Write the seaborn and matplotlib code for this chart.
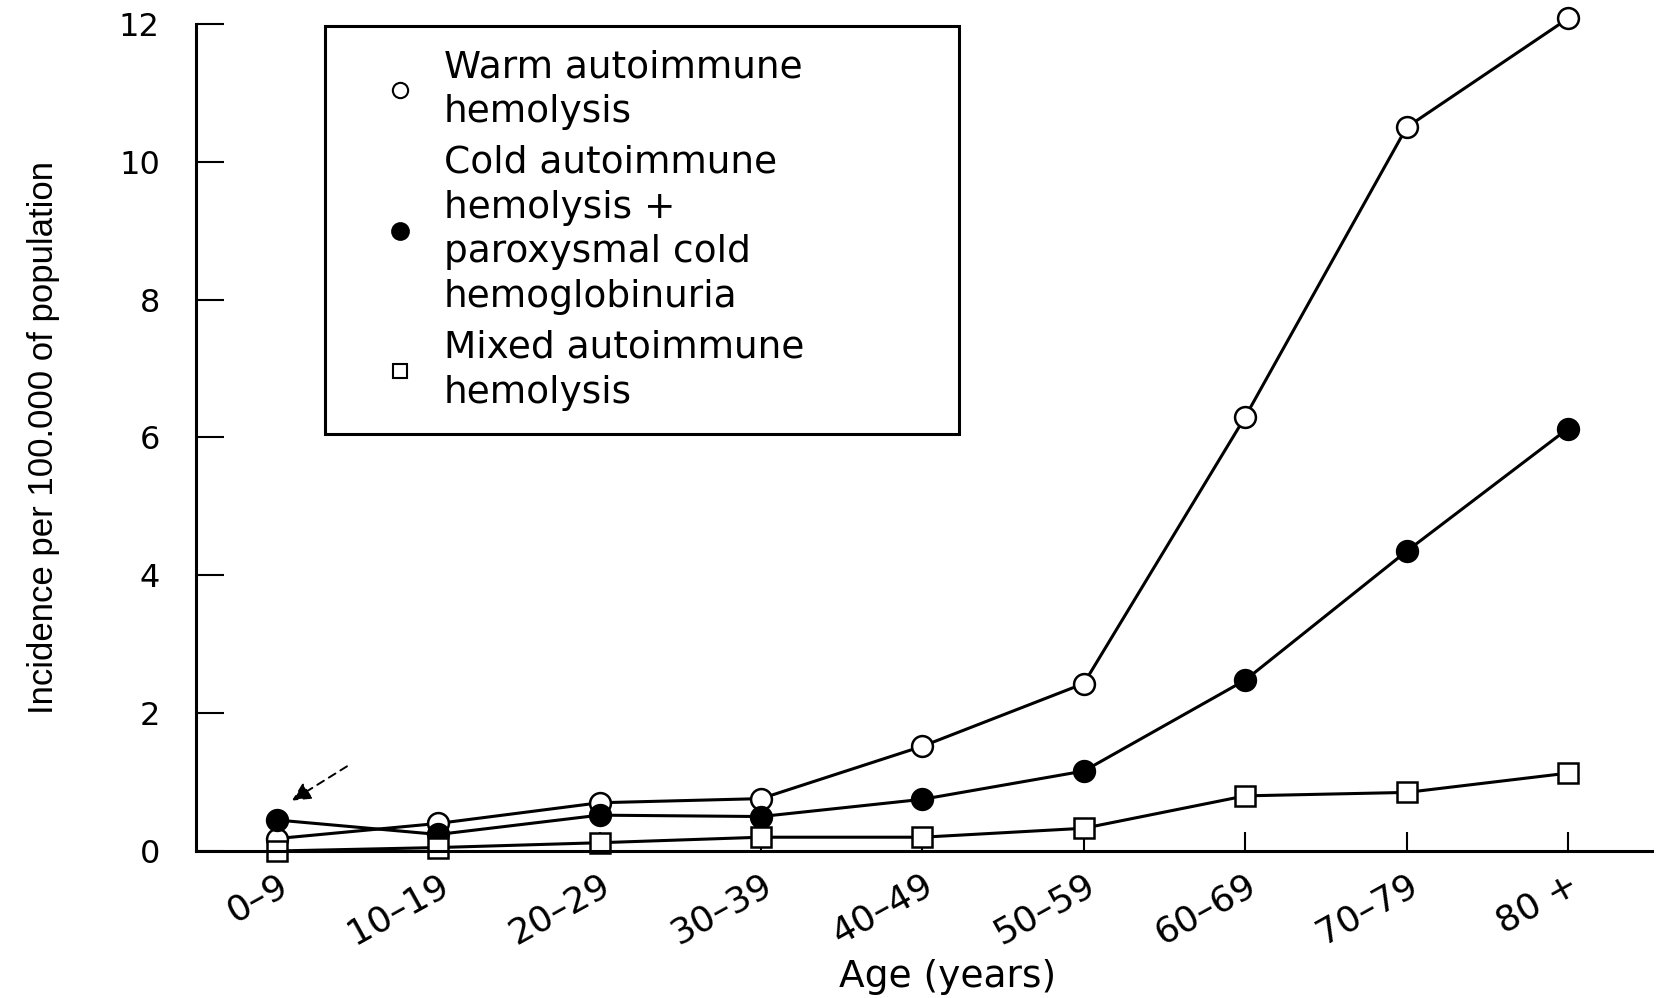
import matplotlib
matplotlib.use("Agg")
import matplotlib.pyplot as plt
import seaborn as sns
from matplotlib.lines import Line2D

# ---- data ----
age_groups = ["0–9", "10–19", "20–29", "30–39", "40–49", "50–59", "60–69", "70–79", "80 +"]
warm = [0.18, 0.40, 0.70, 0.76, 1.52, 2.43, 6.30, 10.50, 12.08]
cold = [0.45, 0.24, 0.52, 0.50, 0.75, 1.16, 2.48, 4.35, 6.13]
mixed = [0.00, 0.05, 0.12, 0.20, 0.20, 0.33, 0.80, 0.85, 1.13]
series_labels = [
    "Warm autoimmune\nhemolysis",
    "Cold autoimmune\nhemolysis +\nparoxysmal cold\nhemoglobinuria",
    "Mixed autoimmune\nhemolysis",
]
y_ticks = [0, 2, 4, 6, 8, 10, 12]
x_title = "Age (years)"
y_title = "Incidence per 100.000 of population"

sns.set_theme(style="ticks", rc={
    "axes.edgecolor": "black", "text.color": "black", "axes.labelcolor": "black",
    "xtick.color": "black", "ytick.color": "black",
})
plt.rcParams["font.family"] = ["DejaVu Sans"]

fig = plt.figure(figsize=(16.61, 9.98), dpi=100)
ax = fig.add_axes([0.118, 0.1473, 0.8766, 0.8287])

styles = [("o", "white"), ("o", "black"), ("s", "white")]
for vals, (mk, fc) in zip([warm, cold, mixed], styles):
    sns.lineplot(x=age_groups, y=vals, ax=ax, color="black", lw=2.2, sort=False,
                 marker=mk, markerfacecolor=fc, markeredgecolor="black",
                 markeredgewidth=1.8, markersize=15, clip_on=False, legend=False)

ax.set_ylim(0, 12)
ax.set_xlim(-0.5, 8.52)
ax.set_yticks(y_ticks)
sns.despine(ax=ax)
for s in ("left", "bottom"):
    ax.spines[s].set_linewidth(2.2)
    ax.spines[s].set_color("black")

ax.tick_params(axis="y", direction="in", length=20, width=1.5, pad=26, labelsize=23)
ax.tick_params(axis="x", direction="in", length=14, width=1.5, pad=12, labelsize=26)
for lbl in ax.get_xticklabels():
    lbl.set_rotation(29)
    lbl.set_ha("right")
    lbl.set_va("top")
    lbl.set_rotation_mode("anchor")

ax.set_xlabel(x_title, fontsize=27, va="top")
ax.xaxis.set_label_coords(0.516, -0.131)
ax.set_ylabel(y_title, fontsize=25, family=["Liberation Sans"])
ax.yaxis.label.set_va("center")
ax.yaxis.set_label_coords(-0.1045, 0.5)

handles = [
    Line2D([], [], ls="none", marker="o", mfc="white", mec="black", mew=1.5, ms=11),
    Line2D([], [], ls="none", marker="o", mfc="black", mec="black", mew=1.5, ms=12),
    Line2D([], [], ls="none", marker="s", mfc="white", mec="black", mew=1.5, ms=10),
]
leg = ax.legend(handles, series_labels, loc="upper left",
                bbox_to_anchor=(0.0886, 0.507, 0.4354, 0.4906), mode="expand",
                frameon=True, fancybox=False, edgecolor="black", fontsize=27,
                handlelength=2.75, handletextpad=-0.2, borderpad=0.62,
                labelspacing=0.4, borderaxespad=0)
leg.get_frame().set_linewidth(2.2)
leg.get_frame().set_alpha(1)
for t in leg.get_texts():
    t.set_linespacing(1.31)

ax.annotate("", xy=(0.08, 0.71), xytext=(0.45, 1.25),
            arrowprops=dict(arrowstyle="-|>", color="black", lw=1.4,
                            linestyle=(0, (4, 3)), mutation_scale=28))

fig.savefig("out.png", dpi=100)
